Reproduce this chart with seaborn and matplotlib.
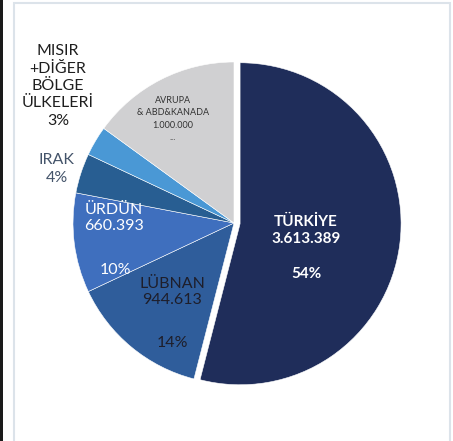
import numpy as np
import pandas as pd
import seaborn as sns
import matplotlib
matplotlib.use("Agg")
import matplotlib.pyplot as plt
from matplotlib.patches import Rectangle

# data, clockwise from 12 o'clock
regions = ['TÜRKİYE', 'LÜBNAN', 'ÜRDÜN', 'IRAK', 'MISIR+DİĞER', 'AVRUPA&ABD&KANADA']
shares = [54, 14, 10, 4, 3, 15]
counts = ['3.613.389', '944.613', '660.393', '', '', '1.000.000']
colors = ['#1F2D5A', '#2F5D9B', '#3F6FBE', '#285E92', '#4A98D5', '#D0D0D2']
explode = [0.038, 0, 0, 0, 0, 0]

df = pd.DataFrame({'region': regions, 'share': shares, 'count': counts})

sns.set_theme(style="white")
plt.rcParams['font.family'] = ['Lato', 'DejaVu Sans']

W, H = 453, 441
fig = plt.figure(figsize=(W / 100, H / 100), dpi=100)
fig.patch.set_facecolor('white')

# pie centre / radius in pixels (top-left origin)
cx, cy, r = 234, 223, 161
half = r * 1.25
ax = fig.add_axes([(cx - half) / W, (H - cy - half) / H, 2 * half / W, 2 * half / H])

wedges, _ = ax.pie(df['share'], colors=colors, startangle=90, counterclock=False,
                   explode=explode, wedgeprops=dict(edgecolor='white', linewidth=0.4))
ax.set_xlim(-1.25, 1.25)
ax.set_ylim(-1.25, 1.25)
ax.set_aspect('equal')
ax.axis('off')


def px(x, y):
    return (x - cx) / r, (cy - y) / r


def label(x, y, s, **kw):
    ax.text(*px(x, y), s, ha='center', va='center', **kw)


label(306, 248, 'TÜRKİYE\n' + counts[0] + '\n\n' + '%d%%' % shares[0],
      color='white', fontsize=11, fontweight='bold', linespacing=1.3)
label(172, 292, 'LÜBNAN\n' + counts[1], color='#1E1E2A', fontsize=11.5, linespacing=1.25)
label(172, 343, '%d%%' % shares[1], color='#1E1E2A', fontsize=11.5)
label(114, 218, 'ÜRDÜN\n' + counts[2], color='white', fontsize=11.5, linespacing=1.25)
label(115, 270, '%d%%' % shares[2], color='white', fontsize=11.5)
label(57, 169, 'IRAK\n%d%%' % shares[3], color='#44546A', fontsize=11.5, linespacing=1.3)
label(58, 86, 'MISIR\n+DİĞER\nBÖLGE\nÜLKELERİ\n%d%%' % shares[4],
      color='#1E1E1E', fontsize=11.5, linespacing=1.3)
label(173, 119, 'AVRUPA\n& ABD&KANADA\n' + counts[5] + '\n...',
      color='#333333', fontsize=6.5, linespacing=1.45)

# frame decoration
fig.patches.append(Rectangle((0, 0), 3 / W, 1, transform=fig.transFigure,
                             facecolor='#1A1A1A', edgecolor='none'))
fig.patches.append(Rectangle((14.5 / W, -0.01), (449.5 - 14.5) / W, (H - 2.5) / H + 0.01,
                             transform=fig.transFigure, facecolor='none',
                             edgecolor='#DCE3EA', linewidth=1.5))

fig.savefig('out.png', dpi=100)
